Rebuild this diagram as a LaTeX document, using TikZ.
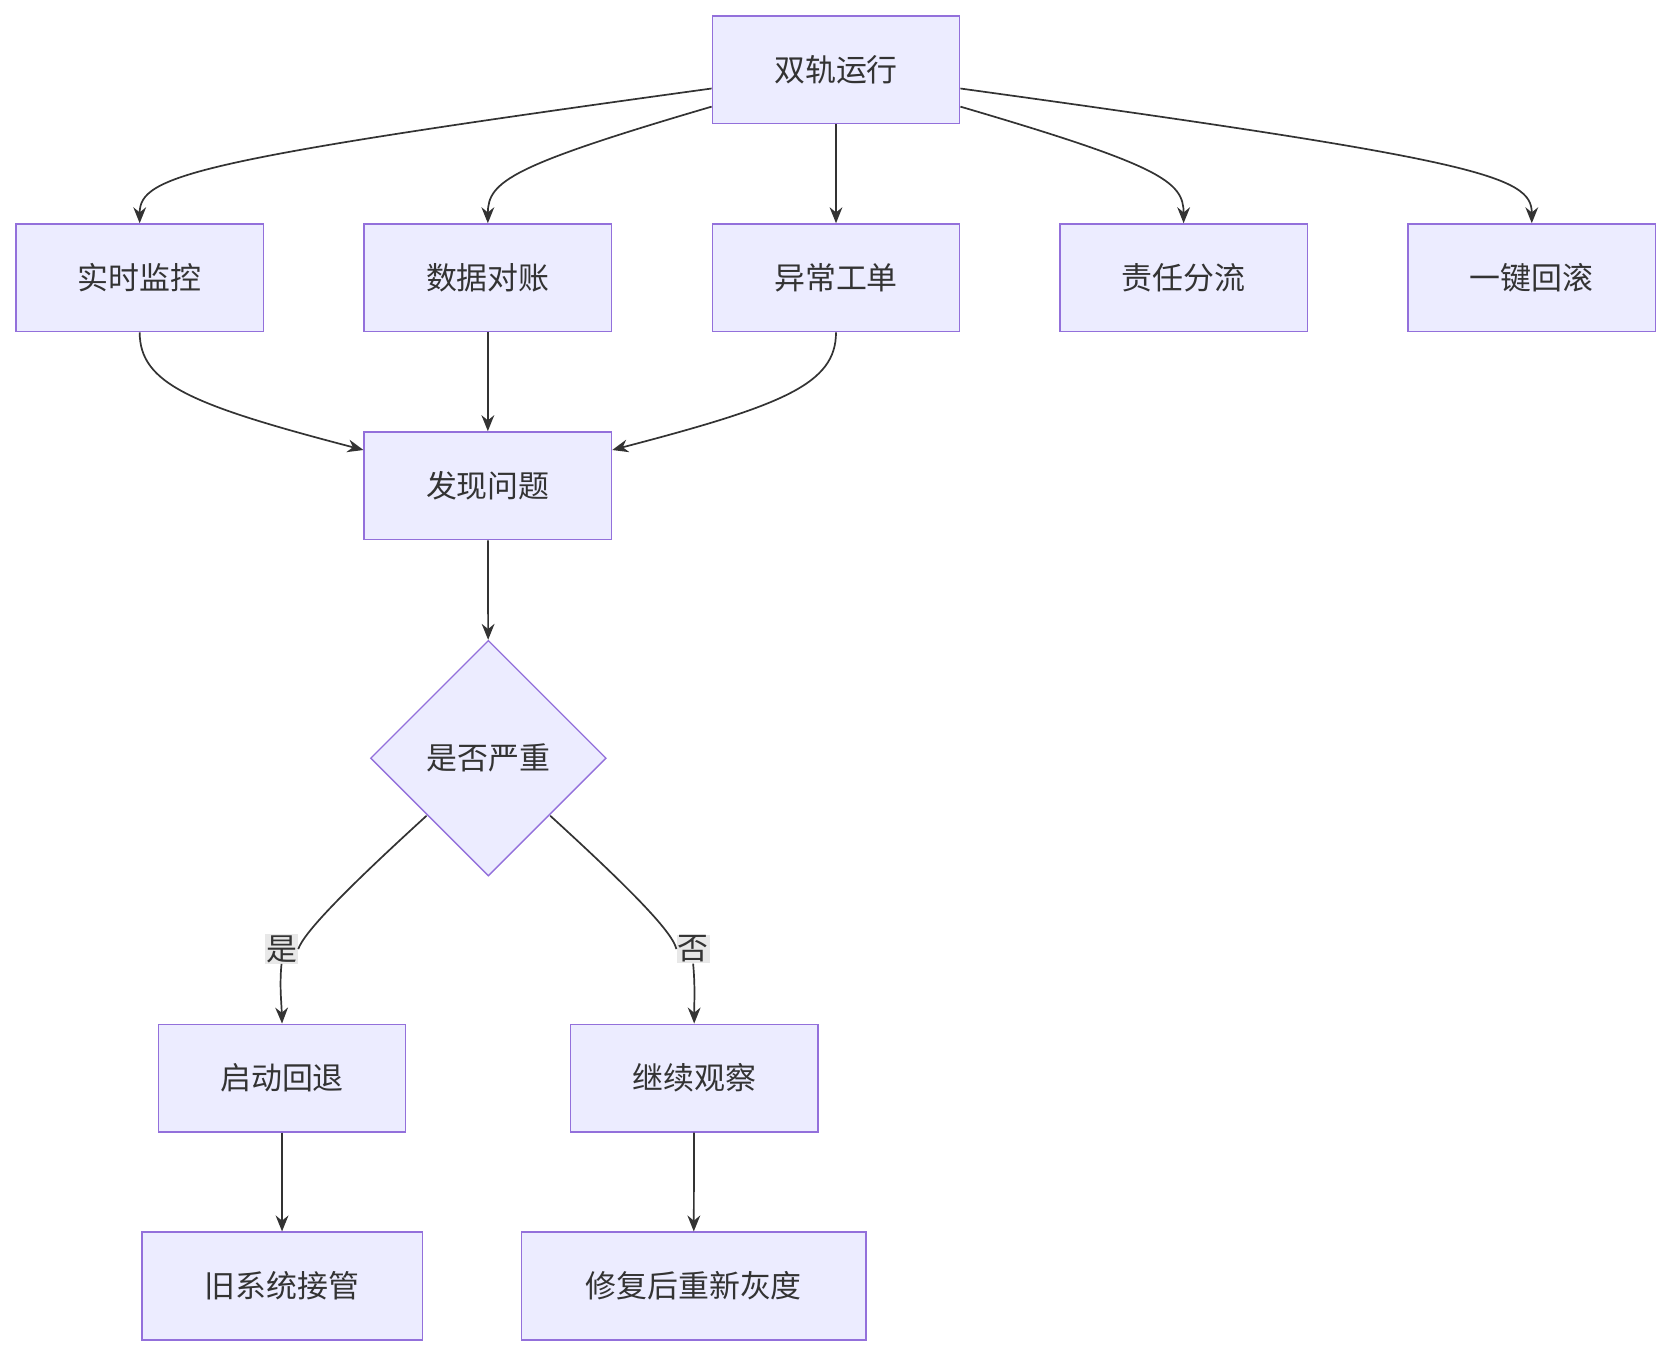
\documentclass[tikz,border=0pt]{standalone}
\usepackage{fontspec}
\setmainfont{Noto Sans CJK SC}
\usetikzlibrary{shapes.geometric,arrows.meta}
\definecolor{nf}{HTML}{ECECFF}
\definecolor{ns}{HTML}{9370DB}
\definecolor{ln}{HTML}{333333}
\begin{document}
\begin{tikzpicture}[x=1pt,y=-1pt,
  box/.style={draw=ns,fill=nf,line width=1.3pt,minimum width=232pt,minimum height=101pt,inner sep=0pt,font=\fontsize{29}{34}\selectfont,text=ln},
  dia/.style={draw=ns,fill=nf,line width=1.3pt,diamond,minimum width=221pt,minimum height=221pt,inner sep=0pt,font=\fontsize{29}{34}\selectfont,text=ln},
  lab/.style={fill=black!9,inner sep=1pt,font=\fontsize{29}{34}\selectfont,text=ln},
  ar/.style={draw=ln,line width=1.6pt,-{Stealth[length=15pt,width=12pt]}}]
\useasboundingbox (0,0) rectangle (1568,1272);
\node[box] (a) at (784,65.5) {双轨运行};
\node[box] (b1) at (131,260.5) {实时监控};
\node[box] (b2) at (457.5,260.5) {数据对账};
\node[box] (b3) at (784,260.5) {异常工单};
\node[box] (b4) at (1110,260.5) {责任分流};
\node[box] (b5) at (1436.5,260.5) {一键回滚};
\node[box] (c) at (457.5,455.5) {发现问题};
\node[dia] (d) at (458,711) {是否严重};
\node[box] (e1) at (264.5,1011) {启动回退};
\node[box] (e2) at (651,1011) {继续观察};
\node[box,minimum width=263pt] (f1) at (264.5,1206) {旧系统接管};
\node[box,minimum width=323pt] (f2) at (650.5,1206) {修复后重新灰度};
\draw[ar] (a.west|-0,83) .. controls (180,150) and (131,165) .. (b1.north);
\draw[ar] (a.west|-0,100) .. controls (480,155) and (457.5,170) .. (b2.north);
\draw[ar] (a) -- (b3);
\draw[ar] (a.east|-0,100) .. controls (1088,155) and (1110,170) .. (b4.north);
\draw[ar] (a.east|-0,83) .. controls (1387,150) and (1436.5,165) .. (b5.north);
\draw[ar] (b1.south) .. controls (131,360) and (180,380) .. (c.west|-0,422);
\draw[ar] (b2) -- (c);
\draw[ar] (b3.south) .. controls (784,360) and (735,380) .. (c.east|-0,422);
\draw[ar] (c) -- (d);
\node[lab] (l1) at (264,890) {是};
\node[lab] (l2) at (650,890) {否};
\begin{scope}[on background layer/.style={}]
\end{scope}
\draw[draw=ln,line width=1.6pt] (400,765) .. controls (320,838) and (285,875) .. (l1.east);
\draw[ar] (l1.south) .. controls (262,925) and (264,940) .. (e1.north);
\draw[draw=ln,line width=1.6pt] (516,765) .. controls (596,838) and (631,875) .. (l2.west);
\draw[ar] (l2.south) .. controls (652,925) and (651,940) .. (e2.north);
\draw[ar] (e1) -- (f1);
\draw[ar] (e2) -- (f2);
\end{tikzpicture}
\end{document}
